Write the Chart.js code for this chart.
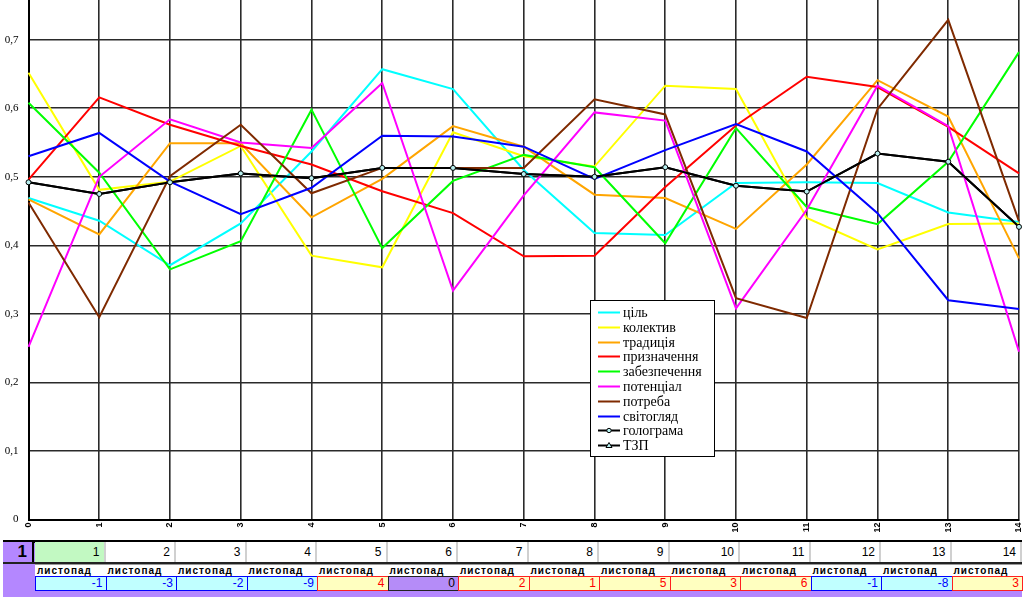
<!DOCTYPE html>
<html><head><meta charset="utf-8">
<script src="https://cdn.jsdelivr.net/npm/chart.js@4/dist/chart.umd.min.js"></script>
<style>
body{margin:0;background:#fff;width:1024px;height:602px;overflow:hidden;position:relative;font-family:"Liberation Sans",Arial,sans-serif}
#wrap{position:absolute;left:0;top:0;width:1024px;height:538px}
.c{position:absolute;box-sizing:border-box;white-space:nowrap;overflow:hidden}
</style></head><body>
<div id="wrap"><canvas id="ch" width="1024" height="538"></canvas></div>
<div id="tbl"></div>
<script>
// ---- chart data ----
const xLabels = ['0','1','2','3','4','5','6','7','8','9','10','11','12','13','14'];
const seriesNames = ['ціль','колектив','традиція','призначення','забезпечення','потенціал','потреба','світогляд','голограма','ТЗП'];
const cil          = [0.469,0.436,0.371,0.432,0.537,0.657,0.628,0.510,0.418,0.415,0.491,0.492,0.491,0.448,0.434];
const kolektyv     = [0.652,0.481,0.493,0.545,0.385,0.368,0.565,0.530,0.515,0.633,0.628,0.440,0.394,0.431,0.432];
const tradytsiya   = [0.467,0.416,0.549,0.549,0.441,0.497,0.574,0.544,0.474,0.469,0.424,0.518,0.641,0.588,0.381];
const pryznachennya= [0.496,0.616,0.576,0.545,0.518,0.479,0.447,0.384,0.385,0.485,0.575,0.646,0.631,0.573,0.505];
const zabezpechennya=[0.608,0.506,0.365,0.406,0.598,0.396,0.494,0.532,0.514,0.403,0.571,0.456,0.431,0.522,0.682];
const potentsial   = [0.252,0.500,0.584,0.550,0.542,0.637,0.334,0.473,0.594,0.582,0.308,0.452,0.633,0.574,0.245];
const potreba      = [0.4625,0.295,0.501,0.576,0.476,0.513,0.513,0.513,0.613,0.591,0.323,0.294,0.599,0.729,0.435];
const svitohlyad   = [0.530,0.564,0.493,0.4455,0.484,0.560,0.559,0.544,0.497,0.539,0.577,0.537,0.447,0.320,0.307];
const holohrama    = [0.492,0.475,0.492,0.505,0.498,0.513,0.513,0.504,0.500,0.514,0.487,0.4785,0.534,0.522,0.427];
const tzp          = [0.492,0.475,0.492,0.505,0.498,0.513,0.513,0.504,0.500,0.514,0.487,0.4785,0.534,0.522,0.427];
const seriesColors = ['#00ffff','#ffff00','#ffa500','#ff0000','#00ff00','#ff00ff','#7f2a00','#0000ff','#000000','#000000'];
const yTicks = [0,0.1,0.2,0.3,0.4,0.5,0.6,0.7];

// ---- table data ----
const tblNumbers = [1,2,3,4,5,6,7,8,9,10,11,12,13,14];
const tblMonths  = ['листопад','листопад','листопад','листопад','листопад','листопад','листопад','листопад','листопад','листопад','листопад','листопад','листопад','листопад'];
const tblValues  = [-1,-3,-2,-9,4,0,2,1,5,3,6,-1,-8,3];
const tblRowLabel = '1';

const allSeries = [cil,kolektyv,tradytsiya,pryznachennya,zabezpechennya,potentsial,potreba,svitohlyad,holohrama,tzp];
const datasets = allSeries.map((d,i)=>({
  label: seriesNames[i],
  data: d,
  borderColor: seriesColors[i],
  backgroundColor: seriesColors[i],
  borderWidth: 2,
  pointRadius: i===8 ? 2.5 : 0,
  pointStyle: 'circle',
  pointBackgroundColor: '#b8f0f0',
  pointBorderColor: '#000',
  pointBorderWidth: 1,
  tension: 0,
  fill: false,
  order: i===9 ? 20 : 10 - i
}));

const topFixPlugin = {
  id: 'topFix',
  afterLayout(chart){
    const d = chart.chartArea.top;
    if (d > 0) {
      chart.chartArea.top = 0;
      chart.chartArea.height += d;
      const y = chart.scales.y;
      y.top = 0;
      y.height = y.bottom - y.top;
      y.configure();
    }
  }
};

const legendPlugin = {
  id: 'boxLegend',
  afterDatasetsDraw(chart){
    const ctx = chart.ctx;
    ctx.save();
    const x0 = 590, y0 = 300, w = 124, h = 156;
    ctx.fillStyle = '#fff';
    ctx.fillRect(x0, y0, w, h);
    ctx.strokeStyle = '#000';
    ctx.lineWidth = 1;
    ctx.strokeRect(x0 + 0.5, y0 + 0.5, w, h);
    ctx.font = '14px "Liberation Serif", "Times New Roman", serif';
    ctx.textBaseline = 'middle';
    chart.data.datasets.forEach((ds, i) => {
      const y = Math.round(y0 + 12 + i * 14.8) + 0.5;
      ctx.strokeStyle = ds.borderColor;
      ctx.lineWidth = 2;
      ctx.beginPath(); ctx.moveTo(598, y); ctx.lineTo(620, y); ctx.stroke();
      if (i === 8) {
        ctx.fillStyle = '#b8f0f0'; ctx.lineWidth = 1; ctx.strokeStyle = '#000';
        ctx.beginPath(); ctx.arc(609, y, 2.2, 0, Math.PI * 2); ctx.fill(); ctx.stroke();
      } else if (i === 9) {
        ctx.fillStyle = '#b8f0f0'; ctx.lineWidth = 1; ctx.strokeStyle = '#000';
        ctx.beginPath(); ctx.moveTo(609, y - 3); ctx.lineTo(612, y + 2); ctx.lineTo(606, y + 2); ctx.closePath(); ctx.fill(); ctx.stroke();
      }
      ctx.fillStyle = '#000';
      ctx.fillText(ds.label, 623, y + 1);
    });
    ctx.restore();
  }
};

new Chart(document.getElementById('ch'), {
  type: 'line',
  data: { labels: xLabels, datasets },
  options: {
    responsive: false,
    animation: false,
    layout: { padding: { top: 0, right: 4.5, bottom: 0, left: 0 } },
    plugins: { legend: { display: false }, tooltip: { enabled: false } },
    scales: {
      x: {
        type: 'category',
        offset: false,
        grid: { color: '#2a2a2a', lineWidth: 1.6, drawTicks: false },
        border: { color: '#000', width: 2 },
        ticks: { color: '#000', font: { family: '"Liberation Sans", Arial', size: 9, weight: 'bold' }, minRotation: 90, maxRotation: 90, padding: 3, autoSkip: false },
        afterFit(s){ s.height = 18.5; s.paddingLeft = 0; s.paddingRight = 0; s.paddingTop = 0; s.paddingBottom = 0; }
      },
      y: {
        min: 0, max: 0.758,
        grid: { color: '#2a2a2a', lineWidth: 1.6, drawTicks: false },
        border: { color: '#000', width: 2 },
        afterBuildTicks(s){ s.ticks = yTicks.map(v => ({ value: v })); },
        ticks: {
          color: '#000', padding: 10,
          font: { family: '"Liberation Serif", "Times New Roman", serif', size: 11 },
          callback: v => v === 0 ? '0' : v.toFixed(1).replace('.', ',')
        },
        afterFit(s){ s.width = 28.5; s.paddingTop = 0; s.paddingBottom = 0; s.paddingLeft = 0; s.paddingRight = 0; }
      }
    }
  },
  plugins: [topFixPlugin, legendPlugin]
});

// ---- table below chart ----
const tbl = document.getElementById('tbl');
function cell(x, y, w, h, css, text){
  const d = document.createElement('div');
  d.className = 'c';
  d.style.cssText = `left:${x}px;top:${y}px;width:${w}px;height:${h}px;` + (css || '');
  if (text !== undefined) d.textContent = text;
  tbl.appendChild(d);
  return d;
}
const purple = '#b487ff';
const colW = 70.5, colX0 = 35;
// purple frame
cell(3, 541, 32, 56, `background:${purple}`);
cell(3, 590, 1019, 7, `background:${purple}`);
// header row
cell(3, 540, 1019, 2.5, 'background:#000');
cell(3, 542, 31, 20, `background:${purple};border-right:2px solid #000;font:bold 17px "Liberation Sans",Arial;text-align:right;padding-right:5px;line-height:20px;color:#000`, tblRowLabel);
tblNumbers.forEach((n, k) => {
  const x = colX0 + k * colW;
  cell(x, 542, colW, 19.5, `background:${k===0?'#c2f9c2':'#fff'};border-right:2px solid #d0d0d0;font:12px "Liberation Sans",Arial;text-align:right;padding-right:4px;line-height:20px;color:#000`, String(n));
});
cell(3, 561.5, 1019, 2, 'background:#222');
cell(35, 564, 987, 1, 'background:#999');
// month row
tblMonths.forEach((m, k) => {
  const x = colX0 + k * colW;
  cell(x, 565, colW, 11, 'font:bold 10px "Liberation Sans",Arial;letter-spacing:1px;padding-left:2px;line-height:11px;color:#000', m);
});
// value row
tblValues.forEach((v, k) => {
  const x = colX0 + k * colW;
  let css;
  if (v < 0) css = 'background:#c0ffff;border:1.5px solid #0000ff;color:#0000ff';
  else if (v > 0) css = 'background:#ffffc0;border:1.5px solid #ff2020;color:#ff0000';
  else css = 'background:#b58cf8;border:1.5px solid #222;color:#000';
  cell(x, 576, colW + 1, 15, css + ';font:12px "Liberation Sans",Arial;text-align:right;padding-right:3px;line-height:12px', String(v));
});
</script>
</body></html>
